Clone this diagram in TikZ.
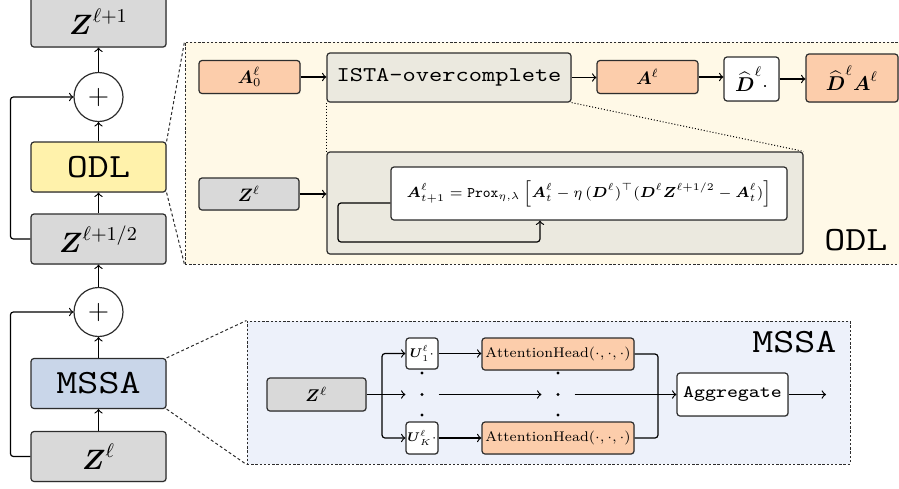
\RequirePackage{fix-cm}
\documentclass[tikz,border=0pt]{standalone}
\usepackage{amsmath}
\usepackage{amssymb}
\usepackage{fontspec}
\usetikzlibrary{calc, shadows}
\newfontfamily\cour[FakeStretch=1.2]{Latin Modern Mono}
\definecolor{peach}{RGB}{252,205,171}
\definecolor{zgrey}{RGB}{217,217,217}
\definecolor{odlyellow}{RGB}{255,242,171}
\definecolor{mssablue}{RGB}{201,214,233}
\definecolor{odlbg}{RGB}{255,249,231}
\definecolor{mssabg}{RGB}{237,241,250}
\definecolor{istagrey}{RGB}{235,233,223}
\definecolor{edge}{RGB}{45,45,45}

\begin{document}
\begin{tikzpicture}[x=0.5pt, y=-0.5pt, >=to, line width=0.6pt,
    box/.style={draw=edge, rounded corners=1.5pt, inner sep=0pt, drop shadow={shadow xshift=0.4pt, shadow yshift=-0.4pt, opacity=0.25}},
    col/.style={box, minimum width=67.5pt, minimum height=25pt, font=\fontsize{14}{16}\selectfont},
    plus/.style={circle, draw=edge, fill=white, minimum size=24.5pt, inner sep=0pt, font=\fontsize{14}{16}\selectfont},
    panel/.style={draw=edge, line width=0.5pt, dash pattern=on 1.2pt off 0.9pt, inner sep=0pt},
    link/.style={draw=edge, line width=0.5pt, dash pattern=on 1.5pt off 1.2pt},
    hop/.style={densely dotted, line width=0.5pt},
    bigtt/.style={font=\cour\fontsize{17}{19}\selectfont},
    odlm/.style={box, font=\fontsize{9}{11}\selectfont},
    mssam/.style={box, font=\fontsize{7}{9}\selectfont},
    gap/.style={circle, minimum size=16pt, inner sep=0pt, path picture={\fill (path picture bounding box.center) circle (0.8pt);}},
    rc/.style={rounded corners=1.5pt}]
    \useasboundingbox (0,0) rectangle (899,488);

    \node[panel, fill=odlbg, minimum width=360pt, minimum height=111pt] (odlpanel) at (545,153) {};
    \node[panel, fill=mssabg, minimum width=301.5pt, minimum height=71.5pt] (mssapanel) at (548.5,392.5) {};

    \node[col, fill=zgrey] (zup) at (98.5,22) {$\boldsymbol{Z}^{\ell+1}$};
    \node[plus] (plusodl) at (98.5,97) {$+$};
    \node[col, bigtt, fill=odlyellow] (odl) at (98.5,167) {ODL};
    \node[col, fill=zgrey] (zhalf) at (98.5,239) {$\boldsymbol{Z}^{\ell+1/2}$};
    \node[plus] (plusmssa) at (98.5,312) {$+$};
    \node[col, bigtt, fill=mssablue] (mssa) at (98.5,383.5) {MSSA};
    \node[col, fill=zgrey] (zl) at (98.5,456.5) {$\boldsymbol{Z}^{\ell}$};

    \draw[->] (zl) -- (mssa);
    \draw[->] (mssa) -- (plusmssa);
    \draw[->] (plusmssa) -- (zhalf);
    \draw[->] (zhalf) -- (odl);
    \draw[->] (odl) -- (plusodl);
    \draw[->] (plusodl) -- (zup);
    \draw[->, rc] (zhalf.west) -- ++(-20,0) |- (plusodl.west);
    \draw[->, rc] (zl.west) -- ++(-20,0) |- (plusmssa.west);

    \draw[link] (odl.north east) -- (odlpanel.north west);
    \draw[link] (odl.south east) -- (odlpanel.south west);
    \draw[link] (mssa.north east) -- (mssapanel.north west);
    \draw[link] (mssa.south east) -- (mssapanel.south west);

    \node[bigtt, anchor=base east, inner sep=0pt] (odltag) at (888,250) {ODL};
    \node[odlm, fill=peach, minimum width=50.5pt, minimum height=16.5pt] (a0) at (249.5,77) {$\boldsymbol{A}_0^{\ell}$};
    \node[box, fill=istagrey, minimum width=122pt, minimum height=24.5pt, font=\cour\fontsize{10.5}{12}\selectfont] (ista) at (449,77.5) {ISTA-overcomplete};
    \node[odlm, fill=peach, minimum width=50.5pt, minimum height=16.5pt] (al) at (647.5,77) {$\boldsymbol{A}^{\ell}$};
    \node[odlm, fill=white, minimum width=27.5pt, minimum height=22pt, font=\fontsize{10}{12}\selectfont] (dhat) at (751.5,79) {$\widehat{\boldsymbol{D}}^{\ell}\cdot$};
    \node[odlm, fill=peach, minimum width=46pt, minimum height=24pt, font=\fontsize{10}{12}\selectfont] (dal) at (852,78) {$\widehat{\boldsymbol{D}}^{\ell}\boldsymbol{A}^{\ell}$};
    \node[odlm, fill=zgrey, minimum width=50pt, minimum height=16pt] (zodl) at (249,194) {$\boldsymbol{Z}^{\ell}$};
    \node[box, fill=istagrey, minimum width=238pt, minimum height=51pt] (istabox) at (565,203) {};
    \node[odlm, fill=white, minimum width=198pt, minimum height=26.5pt, font=\fontsize{7.3}{9}\selectfont] (formula) at (589,193.5) {$\boldsymbol{A}_{t+1}^{\ell} = \texttt{Prox}_{\eta,\lambda}\left[\boldsymbol{A}_t^{\ell} - \eta\,(\boldsymbol{D}^{\ell})^{\top}(\boldsymbol{D}^{\ell}\boldsymbol{Z}^{\ell+1/2} - \boldsymbol{A}_t^{\ell})\right]$};

    \draw[->] (a0.east) -- (a0.east -| ista.west);
    \draw[->] (ista.east) -- (ista.east -| al.west);
    \draw[->] (al.east) -- (al.east -| dhat.west);
    \draw[->] (dhat.east) -- (dhat.east -| dal.west);
    \draw[->] (zodl.east) -- (zodl.east -| istabox.west);
    \draw[hop] (ista.south west) -- (istabox.north west);
    \draw[hop] (ista.south east) -- (istabox.north east);
    \coordinate (loopout) at ($(formula.west)+(0,9.5)$);
    \coordinate (loopin) at ($(formula.south)+(-49,0)$);
    \draw[->, rc] (loopout) -| (338,242) -| (loopin);

    \node[bigtt, anchor=base east, inner sep=0pt] (mssatag) at (837,352) {MSSA};
    \node[mssam, fill=zgrey, minimum width=49.5pt, minimum height=16.5pt, font=\fontsize{8.5}{10}\selectfont] (zm) at (316.5,394.5) {$\boldsymbol{Z}^{\ell}$};
    \node[mssam, fill=white, minimum width=16pt, minimum height=15.5pt, font=\fontsize{6.3}{8}\selectfont] (u1) at (422,353.5) {$\boldsymbol{U}_1^{\ell}\cdot$};
    \node[mssam, fill=white, minimum width=16pt, minimum height=16pt, font=\fontsize{6.3}{8}\selectfont] (uk) at (422,438) {$\boldsymbol{U}_K^{\ell}\cdot$};
    \node[mssam, fill=peach, minimum width=76pt, minimum height=16pt] (ah1) at (558,354) {$\mathrm{AttentionHead}(\cdot,\cdot,\cdot)$};
    \node[mssam, fill=peach, minimum width=76pt, minimum height=16pt] (ahk) at (558,438) {$\mathrm{AttentionHead}(\cdot,\cdot,\cdot)$};
    \node[box, fill=white, minimum width=55.5pt, minimum height=21.5pt, font=\cour\fontsize{8.7}{10}\selectfont] (agg) at (732.5,394.5) {Aggregate};
    \node[gap] (m1) at (422,394.5) {};
    \node[gap] (m2) at (558,394.5) {};
    \coordinate (split) at (382,394.5);
    \coordinate (merge) at (658,394.5);
    \coordinate (mssaout) at (826,394.5);
    \fill (422,373) circle (0.8pt) (422,415) circle (0.8pt);
    \fill (558,373) circle (0.8pt) (558,415) circle (0.8pt);

    \draw (zm.east) -- (split);
    \draw[->, rc] (split) |- (u1.west);
    \draw[->, rc] (split) |- (uk.west);
    \draw[->] (split) -- (m1);
    \draw[->] (u1.east) -- (u1.east -| ah1.west);
    \draw[->] (uk.east) -- (uk.east -| ahk.west);
    \draw[->] (m1) -- (m2);
    \draw[rc] (ah1.east) -| (merge);
    \draw[rc] (ahk.east) -| (merge);
    \draw[->] (m2) -- (agg);
    \draw[->] (agg) -- (mssaout);
\end{tikzpicture}
\end{document}
